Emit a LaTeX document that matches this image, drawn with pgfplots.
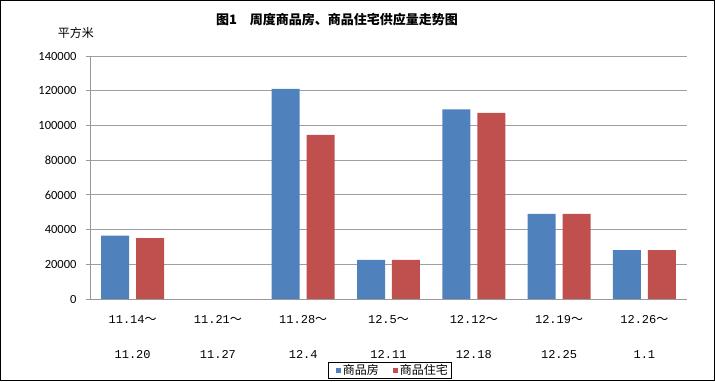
\documentclass[border=0pt]{standalone}
\usepackage{pgfplots}
\pgfplotsset{compat=1.18}
\usepackage{fontspec}
\setmainfont{Carlito}
\newfontfamily\cjk{Noto Sans CJK SC}
\newfontfamily\mono{Liberation Mono}
\definecolor{xlblue}{HTML}{4F81BD}
\definecolor{xlred}{HTML}{C0504D}
\begin{document}
\begin{tikzpicture}
\begin{axis}[
  width=597pt, height=243pt, scale only axis,
  xmin=-0.5, xmax=6.5, ymin=0, ymax=140000,
  ybar, bar width=0.328,
  ytick={0,20000,...,140000},
  scaled y ticks=false,
  yticklabel style={/pgf/number format/fixed,/pgf/number format/1000 sep={},/pgf/number format/assume math mode=true,font=\fontsize{12.5}{14}\selectfont, xshift=-6pt},
  ymajorgrids, grid style={gray!75, line width=0.8pt},
  axis x line*=bottom, axis y line*=left,
  axis line style={gray!80, line width=0.8pt},
  tick align=outside,
  ytick style={gray!80, line width=0.8pt}, major tick length=4pt,
  xtick={0,...,6}, xtick style={draw=none},
  xticklabels={
    {\mono 11.14}{\cjk ～}\\[21pt]{\mono 11.20},
    {\mono 11.21}{\cjk ～}\\[21pt]{\mono 11.27},
    {\mono 11.28}{\cjk ～}\\[21pt]{\mono 12.4},
    {\mono 12.5}{\cjk ～}\\[21pt]{\mono 12.11},
    {\mono 12.12}{\cjk ～}\\[21pt]{\mono 12.18},
    {\mono 12.19}{\cjk ～}\\[21pt]{\mono 12.25},
    {\mono 12.26}{\cjk ～}\\[21pt]{\mono 1.1}},
  xticklabel style={align=center, font=\fontsize{12}{14}\selectfont, yshift=-9pt},
  legend columns=2,
  legend style={at={(0.5025,-0.2935)}, anchor=center, draw=black, line width=0.6pt,
    font=\cjk\fontsize{12}{14}\selectfont, inner ysep=0.5pt, inner xsep=1.5pt,
    /tikz/every even column/.append style={column sep=6pt}},
]
\addplot[fill=xlblue, draw=none, bar shift=-0.205,
  legend image code/.code={\path (0pt,0pt); \fill[xlblue] (6pt,-2.5pt) rectangle (11pt,2.5pt);}]
  coordinates {(0,36500) (2,121000) (3,22500) (4,109300) (5,49000) (6,28200)};
\addplot[fill=xlred, draw=none, bar shift=0.205,
  legend image code/.code={\path (0pt,0pt); \fill[xlred] (6pt,-2.5pt) rectangle (11pt,2.5pt);}]
  coordinates {(0,35000) (2,94500) (3,22500) (4,107200) (5,49000) (6,28200)};
\legend{商品房,商品住宅}
\coordinate (O) at (rel axis cs:0,0);
\end{axis}
\pgfresetboundingbox
\begin{scope}[shift={(O)}, x=1pt, y=1pt]
\useasboundingbox (-90,-83) rectangle (625,299);
\draw[line width=1pt] (-89,-82) rectangle (624,298);
\node[font=\cjk\bfseries\fontsize{13}{15}\selectfont] at (247,279) {图1\quad 周度商品房、商品住宅供应量走势图};
\node[font=\cjk\fontsize{12}{14}\selectfont] at (-14,266) {平方米};
\end{scope}
\end{tikzpicture}
\end{document}
